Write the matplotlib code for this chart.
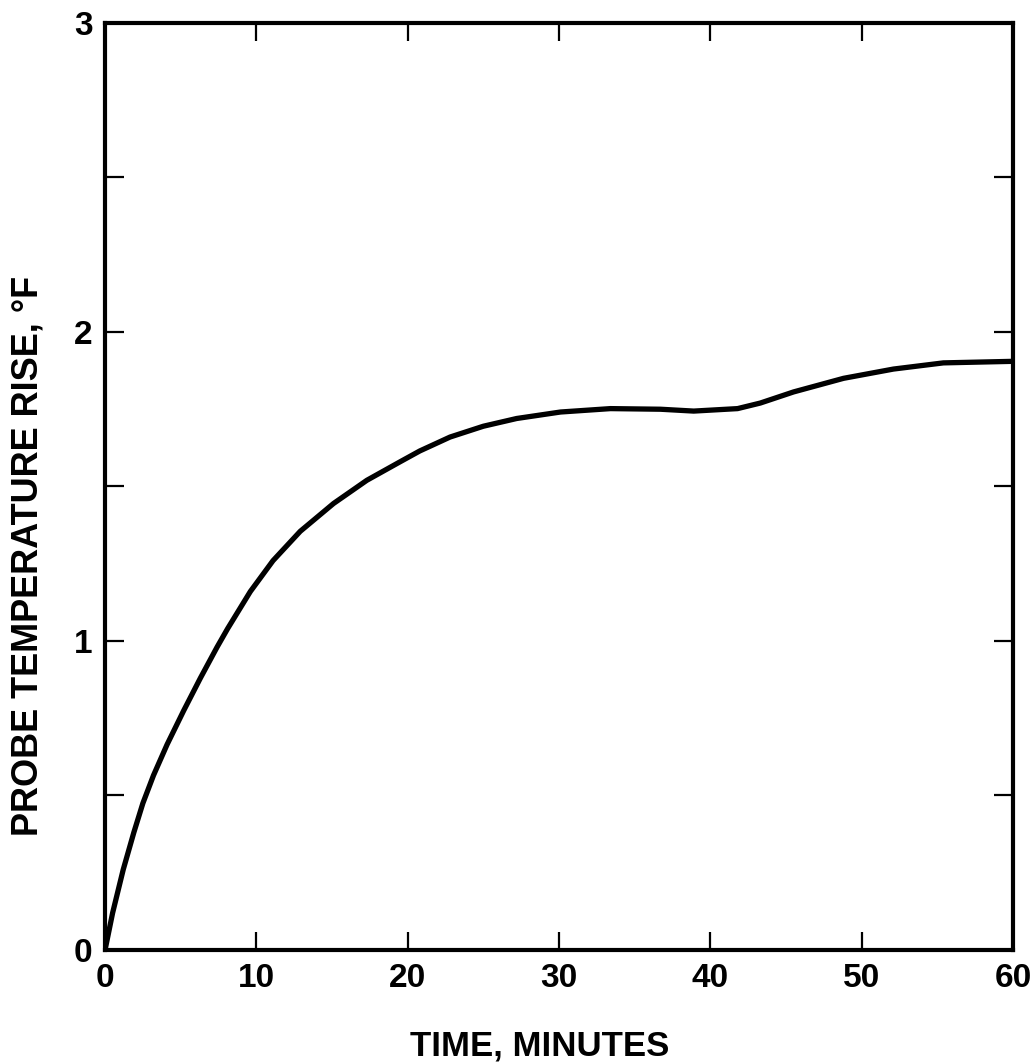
import matplotlib
matplotlib.use("Agg")
import matplotlib.pyplot as plt
from matplotlib.ticker import MultipleLocator

plt.rcParams['font.family'] = ['Liberation Sans', 'DejaVu Sans']
plt.rcParams['font.weight'] = 'bold'

# values
time_min = [0, 0.5, 1.2, 1.9, 2.5, 3.2, 4.1, 5.2, 6.3, 7.4, 8.1, 9.6, 11.1,
            12.9, 15.1, 17.3, 19.5, 20.8, 22.8, 25.0, 27.2, 30.1, 33.4, 36.7,
            38.9, 41.8, 43.3, 45.5, 48.8, 52.1, 55.4, 60.0]
temp_rise = [0, 0.12, 0.26, 0.38, 0.475, 0.565, 0.665, 0.775, 0.88, 0.98, 1.04,
             1.16, 1.26, 1.355, 1.445, 1.52, 1.58, 1.615, 1.66, 1.695, 1.72,
             1.741, 1.752, 1.75, 1.744, 1.752, 1.77, 1.806, 1.85, 1.88, 1.90,
             1.905]
x_ticks = [0, 10, 20, 30, 40, 50, 60]
y_ticks = [0, 1, 2, 3]

fig = plt.figure(figsize=(10.36, 10.63), dpi=100)
ax = fig.add_axes([0.1014, 0.1063, 0.8764, 0.8721])

ax.plot(time_min, temp_rise, color="black", linewidth=3.8,
        solid_joinstyle="round", solid_capstyle="round")

ax.set_xlim(0, 60)
ax.set_ylim(0, 3)
ax.set_xticks(x_ticks)
ax.set_yticks(y_ticks)
ax.yaxis.set_minor_locator(MultipleLocator(0.5))

for s in ax.spines.values():
    s.set_linewidth(3)

ax.tick_params(axis="both", which="both", direction="in", top=True, right=True,
               width=1.6, labelsize=24)
ax.tick_params(axis="x", which="major", length=13, pad=9)
ax.tick_params(axis="y", which="major", length=14, pad=9)
ax.tick_params(axis="y", which="minor", length=14)

ax.set_xlabel("TIME, MINUTES", fontsize=25, fontweight="bold")
ax.xaxis.set_label_coords(0.479, -0.086)
ax.set_ylabel("PROBE TEMPERATURE RISE, \u00b0F", fontsize=26, fontweight="bold")
ax.yaxis.set_label_coords(-0.066, 0.425)

fig.savefig("out.png", dpi=100)
